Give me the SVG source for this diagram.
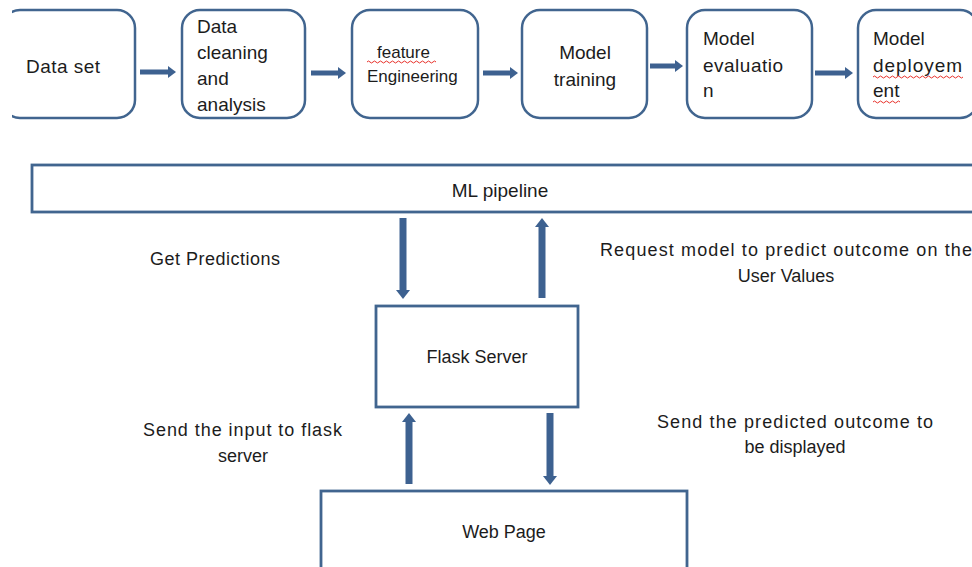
<svg xmlns="http://www.w3.org/2000/svg" width="972" height="567" viewBox="0 0 972 567">
<defs>
<style>
.rbox{fill:#ffffff;stroke:#41658f;stroke-width:2.5}
.box{fill:#ffffff;stroke:#41658f;stroke-width:2.8}
.t{font-family:"Liberation Sans",Arial,sans-serif;font-size:19px;fill:#1c1c1c}
.s{font-family:"Liberation Sans",Arial,sans-serif;font-size:18px;fill:#1c1c1c}
.m{text-anchor:middle}
.h{stroke:#3d6190;stroke-width:5;fill:none}
.v{stroke:#3d6190;stroke-width:7;fill:none}
.sq{fill:none;stroke:#e8302a;stroke-width:1}
</style>
<marker id="ah" markerUnits="userSpaceOnUse" markerWidth="8" markerHeight="12" refX="0" refY="6" orient="auto" viewBox="0 0 8 12">
<path d="M0,0 L8,6 L0,12 Z" fill="#3d6190"/>
</marker>
<marker id="av" markerUnits="userSpaceOnUse" markerWidth="9" markerHeight="14" refX="0" refY="7" orient="auto" viewBox="0 0 9 14">
<path d="M0,0 L9,7 L0,14 Z" fill="#3d6190"/>
</marker>
<clipPath id="clipL"><rect x="12" y="0" width="200" height="140"/></clipPath>
</defs>
<rect width="972" height="567" fill="#ffffff"/>

<g id="dataset">
<rect class="rbox" x="2" y="10" width="133" height="108" rx="18" clip-path="url(#clipL)"/>
<text class="t" x="26" y="73" textLength="74">Data set</text>
</g>
<g id="cleaning">
<rect class="rbox" x="182" y="10" width="123" height="108" rx="18"/>
<text class="t" x="197" y="33">Data</text>
<text class="t" x="197" y="59">cleaning</text>
<text class="t" x="197" y="85">and</text>
<text class="t" x="197" y="111">analysis</text>
</g>
<g id="feature">
<rect class="rbox" x="352" y="10" width="126" height="108" rx="18"/>
<text class="s" x="377" y="58" style="font-size:17px">feature</text>
<text class="s" x="367" y="82" style="font-size:17px">Engineering</text>
<path class="sq" d="M367,62 q1.5,-2 3,0 t3,0 t3,0 t3,0 t3,0 t3,0 t3,0 t3,0 t3,0 t3,0 t3,0 t3,0 t3,0 t3,0 t3,0 t3,0 t3,0 t3,0 t3,0 t3,0 t3,0 t3,0 t3,0"/>
</g>
<g id="training">
<rect class="rbox" x="522" y="10" width="125" height="108" rx="18"/>
<text class="t m" x="585" y="59">Model</text>
<text class="t m" x="585" y="86">training</text>
</g>
<g id="evaluation">
<rect class="rbox" x="687" y="10" width="125" height="108" rx="18"/>
<text class="t" x="703" y="45">Model</text>
<text class="t" x="703" y="72" textLength="80">evaluatio</text>
<text class="t" x="703" y="97">n</text>
</g>
<g id="deployment">
<rect class="rbox" x="858" y="10" width="120" height="108" rx="18"/>
<text class="t" x="873" y="45">Model</text>
<text class="t" x="873" y="72" textLength="89">deployem</text>
<text class="t" x="873" y="97">ent</text>
<path class="sq" d="M873,77 q1.5,-2 3,0 t3,0 t3,0 t3,0 t3,0 t3,0 t3,0 t3,0 t3,0 t3,0 t3,0 t3,0 t3,0 t3,0 t3,0 t3,0 t3,0 t3,0 t3,0 t3,0 t3,0 t3,0 t3,0 t3,0 t3,0 t3,0 t3,0 t3,0 t3,0 t3,0"/>
<path class="sq" d="M873,102 q1.5,-2 3,0 t3,0 t3,0 t3,0 t3,0 t3,0 t3,0 t3,0 t3,0"/>
</g>

<g id="mlpipeline">
<rect class="box" x="32" y="165" width="950" height="47"/>
<text class="s m" x="500" y="197" style="font-size:19px">ML pipeline</text>
</g>
<g id="flask">
<rect class="box" x="376" y="306" width="202" height="101"/>
<text class="s m" x="477" y="363">Flask Server</text>
</g>
<g id="webpage">
<rect class="box" x="321" y="491" width="366" height="90"/>
<text class="s m" x="504" y="538">Web Page</text>
</g>

<g id="connectors">
<line class="h" x1="140" y1="72" x2="168" y2="72" marker-end="url(#ah)"/>
<line class="h" x1="311" y1="73" x2="338" y2="73" marker-end="url(#ah)"/>
<line class="h" x1="483" y1="73" x2="510" y2="73" marker-end="url(#ah)"/>
<line class="h" x1="650" y1="66" x2="675" y2="66" marker-end="url(#ah)"/>
<line class="h" x1="815" y1="73" x2="845" y2="73" marker-end="url(#ah)"/>
<line class="v" x1="403" y1="218" x2="403" y2="290" marker-end="url(#av)"/>
<line class="v" x1="542" y1="298" x2="542" y2="227" marker-end="url(#av)"/>
<line class="v" x1="409" y1="484" x2="409" y2="422" marker-end="url(#av)"/>
<line class="v" x1="550" y1="413" x2="550" y2="476" marker-end="url(#av)"/>
</g>

<g id="labels">
<text class="s" x="150" y="265" textLength="130">Get Predictions</text>
<text class="s" x="600" y="256" textLength="372">Request model to predict outcome on the</text>
<text class="s m" x="786" y="282">User Values</text>
<text class="s" x="143" y="436" textLength="199">Send the input to flask</text>
<text class="s m" x="243" y="462">server</text>
<text class="s" x="657" y="428" textLength="276">Send the predicted outcome to</text>
<text class="s m" x="795" y="453">be displayed</text>
</g>
</svg>
